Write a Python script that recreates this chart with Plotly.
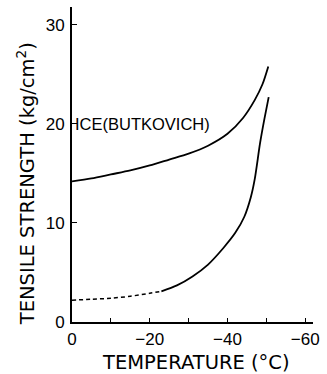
import plotly.graph_objects as go

# Tensile strength of ice vs. temperature (Butkovich)
ice_temp = [0, -5, -10, -15, -20, -25, -30, -35, -40, -44, -47, -49, -50.5]
ice_strength = [14.2, 14.5, 14.9, 15.3, 15.8, 16.4, 17.0, 17.8, 19.0, 20.6, 22.4, 24.0, 25.8]

# Lower curve: dashed (extrapolated) part, then measured part
low_dash_temp = [0, -5, -10, -15, -20, -23]
low_dash_strength = [2.2, 2.3, 2.4, 2.6, 2.9, 3.1]
low_temp = [-23, -27, -31, -35, -39, -42, -44.3, -46, -47, -48.4, -49.5, -50.6]
low_strength = [3.1, 3.7, 4.6, 5.8, 7.5, 9.0, 10.6, 12.6, 14.4, 18.1, 20.5, 22.7]

x_tickvals = [0, -20, -40, -60]
y_tickvals = [0, 10, 20, 30]

line_style = dict(color="black", width=1.8, shape="spline", smoothing=0.8)

fig = go.Figure()
fig.add_trace(go.Scatter(x=ice_temp, y=ice_strength, mode="lines", line=line_style))
fig.add_trace(go.Scatter(x=low_dash_temp, y=low_dash_strength, mode="lines",
                         line=dict(line_style, dash="4px,3px", width=1.5)))
fig.add_trace(go.Scatter(x=low_temp, y=low_strength, mode="lines", line=line_style))

fig.add_annotation(x=-0.2, y=20, xref="x", yref="y", text="ICE(BUTKOVICH)",
                   showarrow=False, xanchor="left", yanchor="middle",
                   font=dict(family="Liberation Sans, Arial", size=16.5, color="black"))

title_font = dict(family="DejaVu Sans", size=19.5, color="black")
# Axis titles placed as annotations for exact positioning
fig.add_annotation(x=-0.19, y=0.438, xref="paper", yref="paper",
                   text="TENSILE STRENGTH (kg/cm<sup>2</sup>)", textangle=-90,
                   showarrow=False, xanchor="center", yanchor="middle", font=title_font)
fig.add_annotation(x=0.514, y=-0.13, xref="paper", yref="paper",
                   text="TEMPERATURE (°C)",
                   showarrow=False, xanchor="center", yanchor="middle", font=title_font)

axis_font = dict(family="Liberation Sans, Arial", size=17, color="black")
fig.update_layout(
    width=327, height=374,
    margin=dict(l=72, r=10, t=7, b=52),
    paper_bgcolor="white", plot_bgcolor="white",
    showlegend=False,
    xaxis=dict(
        range=[0, -62], tickvals=x_tickvals,
        ticks="inside", ticklen=4, tickwidth=1.2, tickcolor="black",
        minor=dict(dtick=10, tick0=0, ticks="inside", ticklen=4, tickwidth=1.2, tickcolor="black"),
        showline=True, linecolor="black", linewidth=2, showgrid=False, zeroline=False,
        tickfont=axis_font, ticklabelstandoff=1,
    ),
    yaxis=dict(
        range=[0, 31.8], tickvals=y_tickvals,
        ticks="inside", ticklen=5, tickwidth=1.2, tickcolor="black",
        showline=True, linecolor="black", linewidth=2, showgrid=False, zeroline=False,
        tickfont=axis_font, ticklabelstandoff=2,
    ),
)

fig.write_html("out.html")
